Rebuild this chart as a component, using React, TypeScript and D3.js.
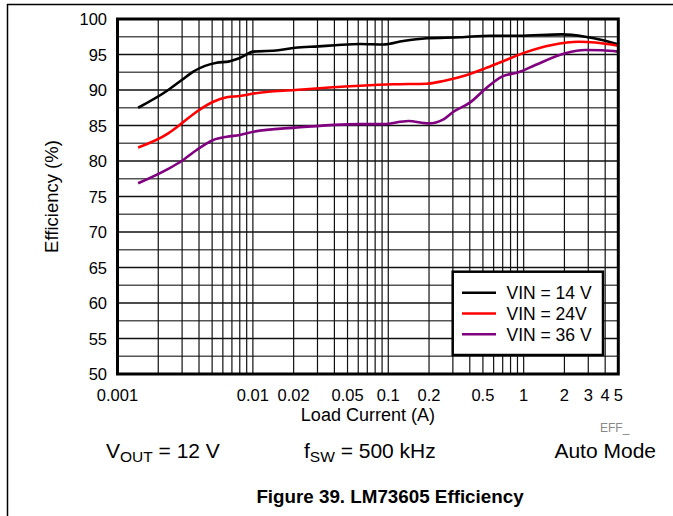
import React from "react";
import * as d3 from "d3";

const loadA = [0.00142, 0.00237, 0.00298, 0.00363, 0.00443, 0.0054, 0.0066, 0.0080, 0.0101, 0.0154, 0.0205, 0.0305, 0.0405, 0.062, 0.0922, 0.129, 0.193, 0.34, 0.566, 0.917, 1.92, 2.85, 3.79, 5.0];
const vin14 = [87.5, 90.0, 91.4, 92.6, 93.4, 93.85, 94.0, 94.5, 95.4, 95.6, 95.96, 96.15, 96.3, 96.48, 96.4, 96.9, 97.28, 97.42, 97.65, 97.65, 97.84, 97.5, 97.04, 96.4];

const load24 = [0.00142, 0.00237, 0.00298, 0.00384, 0.0051, 0.0064, 0.0080, 0.0101, 0.0205, 0.062, 0.109, 0.193, 0.256, 0.381, 0.52, 0.69, 1.03, 1.62, 2.55, 3.38, 5.0];
const vin24 = [81.9, 83.9, 85.3, 86.94, 88.35, 88.97, 89.15, 89.5, 90.0, 90.6, 90.8, 90.89, 91.27, 92.1, 93.05, 93.99, 95.3, 96.34, 96.8, 96.7, 96.24];

const load36 = [0.00142, 0.00237, 0.00298, 0.00384, 0.0051, 0.0064, 0.0080, 0.0101, 0.0205, 0.062, 0.0922, 0.141, 0.198, 0.256, 0.303, 0.403, 0.52, 0.69, 0.917, 1.22, 2.03, 2.85, 3.79, 5.0];
const vin36 = [76.86, 78.9, 80.0, 81.55, 82.96, 83.42, 83.66, 84.13, 84.7, 85.2, 85.2, 85.63, 85.3, 85.87, 86.94, 88.26, 90.14, 91.88, 92.5, 93.52, 95.17, 95.63, 95.6, 95.4];

const xTickVals = [0.001, 0.01, 0.02, 0.05, 0.1, 0.2, 0.5, 1, 2, 3, 4, 5];
const xTickLabels = ["0.001", "0.01", "0.02", "0.05", "0.1", "0.2", "0.5", "1", "2", "3", "4", "5"];
const yTickVals = [50, 55, 60, 65, 70, 75, 80, 85, 90, 95, 100];
const legendLabels = ["VIN = 14 V", "VIN = 24V", "VIN = 36 V"];
const seriesColors = ["#000000", "#ff0000", "#800080"];

const FONT = "'Liberation Sans', Arial, sans-serif";

export default function App() {
  const x = d3.scaleLog().domain([0.001, 5]).range([117.5, 618.3]);
  const y = d3.scaleLinear().domain([50, 100]).range([374, 19]);

  const vGrid: number[] = [];
  for (const dec of [0.001, 0.01, 0.1, 1]) {
    for (let k = 1; k <= 9; k++) {
      const v = dec * k;
      if (v <= 5.0001) vGrid.push(v);
    }
  }
  const hGrid = d3.range(50, 100.01, 2.5);

  const series = [
    { xs: loadA, ys: vin14 },
    { xs: load24, ys: vin24 },
    { xs: load36, ys: vin36 },
  ];
  const line = d3
    .line<[number, number]>()
    .x((d) => x(d[0]))
    .y((d) => y(d[1]))
    .curve(d3.curveMonotoneX);

  const [x0, x1] = x.range();
  const [y0, y1] = [y(100), y(50)];

  return (
    <svg width={673} height={516} style={{ position: "absolute", left: 0, top: 0, background: "#fff" }}>
      {/* outer frame */}
      <line x1={7} y1={4.5} x2={673} y2={4.5} stroke="#000" strokeWidth={1.5} />
      <line x1={7.5} y1={4} x2={7.5} y2={516} stroke="#000" strokeWidth={1.5} />

      {/* grid */}
      {hGrid.map((v, i) => (
        <line key={"h" + i} x1={x0} x2={x1} y1={y(v)} y2={y(v)} stroke={v % 5 === 0 ? "#111" : "#555"} strokeWidth={1.3} />
      ))}
      {vGrid.map((v, i) => (
        <line key={"v" + i} x1={x(v)} x2={x(v)} y1={y0} y2={y1} stroke="#111" strokeWidth={1.2} />
      ))}

      {/* curves */}
      {series.map((s, i) => (
        <path
          key={"s" + i}
          d={line(s.xs.map((v, j) => [v, s.ys[j]] as [number, number])) || ""}
          fill="none"
          stroke={seriesColors[i]}
          strokeWidth={2.6}
          strokeLinejoin="round"
        />
      ))}

      {/* frame */}
      <rect x={x0} y={y0} width={x1 - x0} height={y1 - y0} fill="none" stroke="#000" strokeWidth={3} />

      {/* y ticks */}
      {yTickVals.map((v) => (
        <text key={"yt" + v} x={107} y={y(v) + 6} textAnchor="end" fontFamily={FONT} fontSize={16.5} fill="#000">
          {v}
        </text>
      ))}
      {/* x ticks */}
      {xTickVals.map((v, i) => (
        <text key={"xt" + i} x={x(v)} y={401} textAnchor="middle" fontFamily={FONT} fontSize={16.5} fill="#000">
          {xTickLabels[i]}
        </text>
      ))}
      <text x={(x0 + x1) / 2} y={421} textAnchor="middle" fontFamily={FONT} fontSize={18}>
        Load Current (A)
      </text>
      <text
        transform={`translate(58, ${(y0 + y1) / 2}) rotate(-90)`}
        textAnchor="middle"
        fontFamily={FONT}
        fontSize={18.5}
      >
        Efficiency (%)
      </text>
      <text x={600} y={432} fontFamily={FONT} fontSize={12} fill="#888">
        EFF_
      </text>

      {/* legend */}
      <rect x={452.7} y={271.7} width={150.3} height={83.3} fill="#fff" stroke="#000" strokeWidth={2.5} />
      {legendLabels.map((lab, i) => (
        <g key={"lg" + i}>
          <line x1={462} x2={496} y1={292.7 + i * 20.8} y2={292.7 + i * 20.8} stroke={seriesColors[i]} strokeWidth={2.6} />
          <text x={506.5} y={292.7 + i * 20.8 + 6.5} fontFamily={FONT} fontSize={17.5}>
            {lab}
          </text>
        </g>
      ))}

      {/* conditions */}
      <text x={106} y={458} fontFamily={FONT} fontSize={21}>
        V<tspan fontSize={15.5} dy={4}>OUT</tspan>
        <tspan dy={-4}> = 12 V</tspan>
      </text>
      <text x={304} y={458} fontFamily={FONT} fontSize={21}>
        f<tspan fontSize={15.5} dy={4}>SW</tspan>
        <tspan dy={-4}> = 500 kHz</tspan>
      </text>
      <text x={656} y={458} textAnchor="end" fontFamily={FONT} fontSize={21}>
        Auto Mode
      </text>
      <text x={390} y={503} textAnchor="middle" fontFamily={FONT} fontSize={18.8} fontWeight="bold">
        Figure 39. LM73605 Efficiency
      </text>
    </svg>
  );
}
